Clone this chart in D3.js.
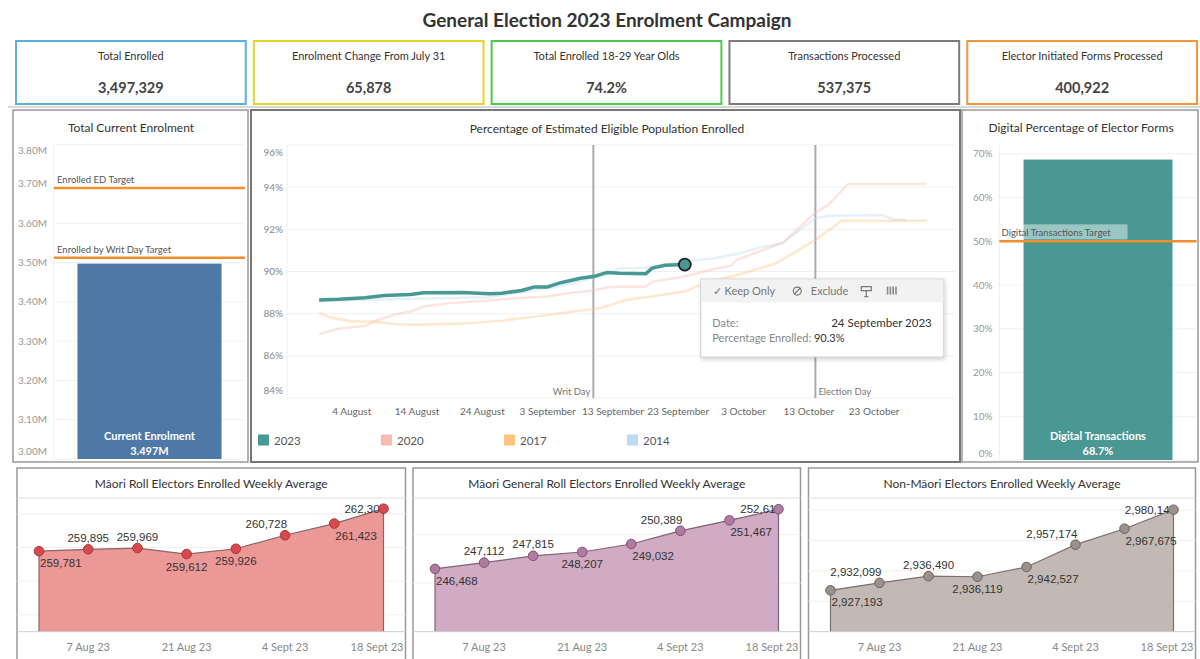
<!DOCTYPE html>
<html>
<head>
<meta charset="utf-8">
<script src="https://cdn.jsdelivr.net/npm/d3@7"></script>
<style>
  body { margin: 0; background: #fff; }
  svg text { font-family: Lato, "Open Sans", sans-serif; }
  svg text.num { font-family: "Liberation Sans", Arial, sans-serif; }
</style>
</head>
<body>
<svg id="dash" width="1200" height="659"></svg>
<script>
// ---------- data ----------
var kpiNames = ["Total Enrolled", "Enrolment Change From July 31", "Total Enrolled 18-29 Year Olds",
  "Transactions Processed", "Elector Initiated Forms Processed"];
var kpiValues = ["3,497,329", "65,878", "74.2%", "537,375", "400,922"];
var kpiColours = ["#5bb0d9", "#e2d62a", "#4fc94a", "#7b7b7b", "#f5953c"];

var currentEnrolment = 3497329;
var enrolTargetNames = ["Enrolled ED Target", "Enrolled by Writ Day Target"];
var enrolTargets = [3690000, 3512500];

var digitalPct = 68.7;
var digitalTargetName = "Digital Transactions Target";
var digitalTarget = 50;

// percentage enrolled, dates aligned to the 2023 calendar
var years = ["2023", "2020", "2017", "2014"];
var yearColours = ["#499894", "#fbbcb0", "#fec57e", "#bcdcf2"];

var dates2023 = ["2023-07-30", "2023-08-02", "2023-08-06", "2023-08-09", "2023-08-13", "2023-08-15",
  "2023-08-21", "2023-08-25", "2023-08-27", "2023-08-30", "2023-09-01", "2023-09-03", "2023-09-05",
  "2023-09-08", "2023-09-10", "2023-09-12", "2023-09-14", "2023-09-18", "2023-09-19", "2023-09-21",
  "2023-09-24"];
var pct2023 = [88.65, 88.68, 88.76, 88.86, 88.91, 88.99, 89.0, 88.95, 88.97, 89.1, 89.27, 89.27, 89.47,
  89.68, 89.76, 89.95, 89.92, 89.89, 90.16, 90.3, 90.33];

var dates2020 = ["2023-07-30", "2023-08-02", "2023-08-06", "2023-08-08", "2023-08-11", "2023-08-13",
  "2023-08-15", "2023-08-19", "2023-08-24", "2023-08-29", "2023-09-03", "2023-09-06", "2023-09-10",
  "2023-09-12", "2023-09-14", "2023-09-18", "2023-09-19", "2023-09-24", "2023-09-28", "2023-10-01",
  "2023-10-02", "2023-10-06", "2023-10-09", "2023-10-10", "2023-10-14", "2023-10-16", "2023-10-19",
  "2023-10-31"];
var pct2020 = [87.03, 87.3, 87.42, 87.7, 87.99, 88.1, 88.34, 88.5, 88.6, 88.73, 88.81, 88.97, 89.1,
  89.24, 89.28, 89.28, 89.52, 89.76, 90.08, 90.27, 90.55, 91.02, 91.37, 91.65, 92.79, 93.16, 94.15,
  94.15];

var dates2017 = ["2023-07-30", "2023-08-01", "2023-08-04", "2023-08-07", "2023-08-11", "2023-08-14",
  "2023-08-22", "2023-08-27", "2023-09-01", "2023-09-05", "2023-09-09", "2023-09-11", "2023-09-13",
  "2023-09-15", "2023-09-18", "2023-09-24", "2023-09-27", "2023-10-03", "2023-10-08", "2023-10-11",
  "2023-10-14", "2023-10-18", "2023-10-31"];
var pct2017 = [88.05, 87.79, 87.63, 87.63, 87.5, 87.47, 87.55, 87.67, 87.86, 88.02, 88.18, 88.26, 88.45,
  88.65, 88.78, 89.05, 89.45, 89.92, 90.39, 90.94, 91.5, 92.41, 92.41];

var dates2014 = ["2023-07-30", "2023-08-10", "2023-08-25", "2023-09-05", "2023-09-12", "2023-09-14",
  "2023-09-18", "2023-09-24", "2023-09-28", "2023-10-02", "2023-10-06", "2023-10-09", "2023-10-11",
  "2023-10-14", "2023-10-16", "2023-10-24", "2023-10-26", "2023-10-28"];
var pct2014 = [88.6, 88.68, 88.78, 89.3, 89.85, 90.16, 90.18, 90.5, 90.6, 90.83, 91.18, 91.34, 91.82,
  92.53, 92.64, 92.68, 92.48, 92.44];

var lineTickDates = ["2023-08-04", "2023-08-14", "2023-08-24", "2023-09-03", "2023-09-13",
  "2023-09-23", "2023-10-03", "2023-10-13", "2023-10-23"];
var eventNames = ["Writ Day", "Election Day"];
var eventDates = ["2023-09-10", "2023-10-14"];

// weekly averages
var weekDates = ["2023-07-31", "2023-08-07", "2023-08-14", "2023-08-21", "2023-08-28", "2023-09-04",
  "2023-09-11", "2023-09-18"];
var maoriRoll = [259781, 259895, 259969, 259612, 259926, 260728, 261423, 262305];
var maoriGeneral = [246468, 247112, 247815, 248207, 249032, 250389, 251467, 252611];
var nonMaori = [2927193, 2932099, 2936490, 2936119, 2942527, 2957174, 2967675, 2980146];
var weekTickDates = ["2023-08-07", "2023-08-21", "2023-09-04", "2023-09-18"];
var weekTickLabels = ["7 Aug 23", "21 Aug 23", "4 Sept 23", "18 Sept 23"];

// ---------- drawing ----------
var parse = d3.timeParse("%Y-%m-%d");
var svg = d3.select("#dash");

var defs = svg.append("defs");
var shadow = defs.append("filter").attr("id", "shadow").attr("x", "-10%").attr("y", "-10%")
  .attr("width", "130%").attr("height", "140%");
shadow.append("feDropShadow").attr("dx", 1).attr("dy", 2).attr("stdDeviation", 2)
  .attr("flood-color", "#000").attr("flood-opacity", 0.18);

svg.append("text")
  .attr("x", 607).attr("y", 27)
  .attr("text-anchor", "middle")
  .attr("font-size", 19).attr("font-weight", 700).attr("fill", "#333")
  .text("General Election 2023 Enrolment Campaign");

// KPI boxes
var kpiX = d3.scaleBand().domain(kpiNames).range([16, 1197]).paddingInner(0.034);
var kpi = svg.selectAll(".kpi").data(kpiNames).enter().append("g")
  .attr("class", "kpi")
  .attr("transform", d => `translate(${kpiX(d)},41)`);
kpi.append("rect")
  .attr("width", kpiX.bandwidth()).attr("height", 63)
  .attr("fill", "none")
  .attr("stroke", (d, i) => kpiColours[i]).attr("stroke-width", 2);
kpi.append("text")
  .attr("x", kpiX.bandwidth() / 2).attr("y", 19)
  .attr("text-anchor", "middle").attr("font-size", 11).attr("fill", "#333")
  .text(d => d);
kpi.append("text")
  .attr("x", kpiX.bandwidth() / 2).attr("y", 52)
  .attr("text-anchor", "middle").attr("font-size", 14.5).attr("font-weight", 700).attr("fill", "#444")
  .text((d, i) => kpiValues[i]);

svg.append("line").attr("x1", 8).attr("x2", 1200).attr("y1", 107).attr("y2", 107)
  .attr("stroke", "#ccc").attr("stroke-width", 1.5);

// panel frames
function frame(x0, y0, x1, y1, col, w) {
  svg.append("rect").attr("x", x0).attr("y", y0).attr("width", x1 - x0).attr("height", y1 - y0)
    .attr("fill", "none").attr("stroke", col).attr("stroke-width", w);
}
function title(x, y, t) {
  svg.append("text").attr("x", x).attr("y", y).attr("text-anchor", "middle")
    .attr("font-size", 12).attr("fill", "#333").text(t);
}
frame(13, 110, 248, 462, "#999", 1.5);
frame(251, 110, 960, 462, "#777", 2);
frame(962, 110, 1198, 462, "#999", 1.5);

// ----- Total Current Enrolment -----
title(131, 132, "Total Current Enrolment");
var yEnrol = d3.scaleLinear().domain([3.0e6, 3.8e6]).range([459, 144.7]);
var xEnrol = d3.scaleBand().domain(["Current Enrolment"]).range([54, 245]).padding(0.14);
var enrolTicks = yEnrol.ticks(8);

svg.append("g").selectAll("line").data(enrolTicks).enter().append("line")
  .attr("x1", 54).attr("x2", 245)
  .attr("y1", d => yEnrol(d)).attr("y2", d => yEnrol(d))
  .attr("stroke", "#f0f0f0");
svg.append("line").attr("x1", 54).attr("x2", 54).attr("y1", 144.7).attr("y2", 459).attr("stroke", "#eee");
svg.append("g").selectAll("text").data(enrolTicks).enter().append("text")
  .attr("x", 47)
  .attr("y", (d, i) => yEnrol(d) + 3.5 + (i === 0 ? -7.5 : i === enrolTicks.length - 1 ? 6 : 0))
  .attr("text-anchor", "end").attr("font-size", 10).attr("fill", "#999")
  .text(d => (d / 1e6).toFixed(2) + "M");

svg.append("rect")
  .attr("x", xEnrol("Current Enrolment")).attr("width", xEnrol.bandwidth())
  .attr("y", yEnrol(currentEnrolment)).attr("height", 459 - yEnrol(currentEnrolment))
  .attr("fill", "#4e79a7");
svg.append("text").attr("x", xEnrol("Current Enrolment") + xEnrol.bandwidth() / 2).attr("y", 439.5)
  .attr("text-anchor", "middle").attr("font-size", 11).attr("font-weight", 700).attr("fill", "#fff")
  .text("Current Enrolment");
svg.append("text").attr("x", xEnrol("Current Enrolment") + xEnrol.bandwidth() / 2).attr("y", 455)
  .attr("text-anchor", "middle").attr("font-size", 11).attr("font-weight", 700).attr("fill", "#fff")
  .text(d3.format(".3f")(currentEnrolment / 1e6) + "M");

enrolTargets.forEach(function(t, i) {
  svg.append("line").attr("x1", 54).attr("x2", 245).attr("y1", yEnrol(t)).attr("y2", yEnrol(t))
    .attr("stroke", "#f28e2b").attr("stroke-width", 2.5);
  svg.append("text").attr("x", 57).attr("y", yEnrol(t) - 5)
    .attr("font-size", 9.5).attr("fill", "#555").text(enrolTargetNames[i]);
});

// ----- Percentage of Estimated Eligible Population Enrolled -----
title(607, 133, "Percentage of Estimated Eligible Population Enrolled");
var xLine = d3.scaleTime().domain([parse("2023-07-25"), parse("2023-11-04")]).range([286.5, 952.5]);
var yLine = d3.scaleLinear().domain([84, 96]).range([398, 145]);
var pctTicks = d3.range(84, 97, 2);

svg.append("g").selectAll("line").data(pctTicks).enter().append("line")
  .attr("x1", 287).attr("x2", 955)
  .attr("y1", d => yLine(d)).attr("y2", d => yLine(d))
  .attr("stroke", "#f0f0f0");
svg.append("line").attr("x1", 287).attr("x2", 287).attr("y1", 145).attr("y2", 398).attr("stroke", "#eee");
svg.append("g").selectAll("text").data(pctTicks).enter().append("text")
  .attr("x", 283)
  .attr("y", (d, i) => yLine(d) + 3.5 + (i === 0 ? -7.5 : i === pctTicks.length - 1 ? 7 : 0))
  .attr("text-anchor", "end").attr("font-size", 10).attr("fill", "#888")
  .text(d => d + "%");

svg.append("g").selectAll("text").data(lineTickDates).enter().append("text")
  .attr("x", d => xLine(parse(d))).attr("y", 415)
  .attr("text-anchor", "middle").attr("font-size", 10).attr("fill", "#666")
  .text(d => d3.timeFormat("%-d %B")(parse(d)));

eventDates.forEach(function(d, i) {
  var ex = xLine(parse(d));
  svg.append("line").attr("x1", ex).attr("x2", ex).attr("y1", 145).attr("y2", 398)
    .attr("stroke", "#aaa").attr("stroke-width", 2);
  svg.append("text").attr("x", i === 0 ? ex - 3 : ex + 3).attr("y", 395)
    .attr("text-anchor", i === 0 ? "end" : "start")
    .attr("font-size", 9.5).attr("fill", "#777").text(eventNames[i]);
});

var seriesDates = [dates2023, dates2020, dates2017, dates2014];
var seriesPct = [pct2023, pct2020, pct2017, pct2014];
var line = d3.line().x(d => xLine(d.date)).y(d => yLine(d.v));
// faded years first, 2023 on top
[3, 2, 1, 0].forEach(function(s) {
  var pts = seriesDates[s].map((d, i) => ({ date: parse(d), v: seriesPct[s][i] }));
  svg.append("path").datum(pts)
    .attr("d", line)
    .attr("fill", "none")
    .attr("stroke", yearColours[s])
    .attr("stroke-width", s === 0 ? 3.5 : 2.5)
    .attr("stroke-opacity", s === 0 ? 1 : 0.4)
    .attr("stroke-linejoin", "round");
});

var lastDate = parse(dates2023[dates2023.length - 1]);
var lastPct = pct2023[pct2023.length - 1];
var dotX = xLine(lastDate), dotY = yLine(lastPct);
svg.append("circle").attr("cx", dotX).attr("cy", dotY).attr("r", 6)
  .attr("fill", "#499894").attr("stroke", "#222").attr("stroke-width", 1.8);

// legend
var legend = svg.selectAll(".leg").data(years).enter().append("g")
  .attr("transform", (d, i) => `translate(${258 + i * 123},434.5)`);
legend.append("rect").attr("width", 11).attr("height", 11).attr("fill", (d, i) => yearColours[i]);
legend.append("text").attr("x", 16).attr("y", 10).attr("font-size", 11.5).attr("fill", "#555").text(d => d);

// tooltip
var tip = svg.append("g").attr("transform", `translate(${dotX + 16},${dotY + 14.5})`);
tip.append("rect").attr("width", 243).attr("height", 78).attr("fill", "#fff")
  .attr("stroke", "#ccc").attr("filter", "url(#shadow)");
tip.append("rect").attr("x", 0.5).attr("y", 0.5).attr("width", 242).attr("height", 23).attr("fill", "#f2f2f2");
tip.append("text").attr("x", 12).attr("y", 16).attr("font-size", 11).attr("fill", "#777").text("✓  Keep Only");
tip.append("circle").attr("cx", 96.5).attr("cy", 12).attr("r", 4).attr("fill", "none").attr("stroke", "#777").attr("stroke-width", 1.2);
tip.append("line").attr("x1", 93.5).attr("y1", 15).attr("x2", 99.5).attr("y2", 9).attr("stroke", "#777").attr("stroke-width", 1.2);
tip.append("text").attr("x", 110).attr("y", 16).attr("font-size", 11).attr("fill", "#777").text("Exclude");
tip.append("path").attr("d", "M160.5,7.5 h10 v4 h-10 z M165.5,11.5 v6 M163.5,17.5 h4")
  .attr("fill", "none").attr("stroke", "#777").attr("stroke-width", 1.2);
tip.append("g").selectAll("rect").data([0, 1, 2, 3]).enter().append("rect")
  .attr("x", d => 186 + d * 2.8).attr("y", 7.5).attr("width", 1.6).attr("height", 8).attr("fill", "#888");
tip.append("text").attr("x", 11.5).attr("y", 48).attr("font-size", 11).attr("fill", "#888").text("Date:");
tip.append("text").attr("x", 231).attr("y", 48).attr("text-anchor", "end").attr("font-size", 11.5).attr("fill", "#333")
  .text(d3.timeFormat("%-d %B %Y")(lastDate));
tip.append("text").attr("x", 11.5).attr("y", 63).attr("font-size", 11).attr("fill", "#888")
  .text("Percentage Enrolled: ")
  .append("tspan").attr("fill", "#333").text(d3.format(".1f")(lastPct) + "%");

// ----- Digital Percentage of Elector Forms -----
title(1081, 132, "Digital Percentage of Elector Forms");
var yDig = d3.scaleLinear().domain([0, 72.1]).range([460, 144.7]);
var xDig = d3.scaleBand().domain(["Digital Transactions"]).range([999.3, 1196.7]).padding(0.14);
var digTicks = d3.range(0, 71, 10);
svg.append("g").selectAll("line").data(digTicks).enter().append("line")
  .attr("x1", 999.3).attr("x2", 1196.7)
  .attr("y1", d => yDig(d)).attr("y2", d => yDig(d))
  .attr("stroke", "#f0f0f0");
svg.append("line").attr("x1", 999.3).attr("x2", 999.3).attr("y1", 144.7).attr("y2", 460).attr("stroke", "#eee");
svg.append("g").selectAll("text").data(digTicks).enter().append("text")
  .attr("x", 992.5)
  .attr("y", (d, i) => yDig(d) + 3.5 + (i === 0 ? -7 : 0))
  .attr("text-anchor", "end").attr("font-size", 10).attr("fill", "#999")
  .text(d => d + "%");
svg.append("rect")
  .attr("x", xDig("Digital Transactions")).attr("width", xDig.bandwidth())
  .attr("y", yDig(digitalPct)).attr("height", 460 - yDig(digitalPct))
  .attr("fill", "#499894");
svg.append("text").attr("x", xDig("Digital Transactions") + xDig.bandwidth() / 2).attr("y", 439.5)
  .attr("text-anchor", "middle").attr("font-size", 11).attr("font-weight", 700).attr("fill", "#fff")
  .text("Digital Transactions");
svg.append("text").attr("x", xDig("Digital Transactions") + xDig.bandwidth() / 2).attr("y", 455)
  .attr("text-anchor", "middle").attr("font-size", 11).attr("font-weight", 700).attr("fill", "#fff")
  .text(digitalPct + "%");
svg.append("rect").attr("x", 999.5).attr("y", yDig(digitalTarget) - 17).attr("width", 128).attr("height", 15)
  .attr("fill", "#fff").attr("fill-opacity", 0.45);
svg.append("line").attr("x1", 999.3).attr("x2", 1196.7)
  .attr("y1", yDig(digitalTarget)).attr("y2", yDig(digitalTarget))
  .attr("stroke", "#f28e2b").attr("stroke-width", 2.5);
svg.append("text").attr("x", 1001.5).attr("y", yDig(digitalTarget) - 5.5)
  .attr("font-size", 9.5).attr("fill", "#555").text(digitalTargetName);

// ----- weekly average panels -----
var labelPos = {
  a:  { anchor: "middle", dx: 0,   dy: -7.5 },
  b:  { anchor: "middle", dx: 0,   dy: 16.5 },
  br: { anchor: "start",  dx: 1,   dy: 16 },
  al: { anchor: "end",    dx: 2,   dy: -7 },
  l:  { anchor: "end",    dx: 2.5, dy: 4 }
};

function weeklyPanel(x0, x1, name, values, domain, nTicks, areaCol, lineCol, dotCol, dotStroke, places) {
  var base = 631.7;
  var g = svg.append("g");
  var x = d3.scaleTime().domain(d3.extent(weekDates, parse)).range([x0 + 22, x1 - 22]);
  var y = d3.scaleLinear().domain(domain).range([base, 497]);
  var pts = weekDates.map((d, i) => ({ date: parse(d), v: values[i] }));

  g.append("path").attr("d", `M${x0},660 V468 H${x1} V660`)
    .attr("fill", "none").attr("stroke", "#999").attr("stroke-width", 1.5);
  g.append("text").attr("x", (x0 + x1) / 2).attr("y", 487.5).attr("text-anchor", "middle")
    .attr("font-size", 12).attr("fill", "#333").text(name);
  g.append("line").attr("x1", x0).attr("x2", x1).attr("y1", 498).attr("y2", 498).attr("stroke", "#ddd");

  g.selectAll(".grid").data(y.ticks(nTicks).filter(t => t > domain[0])).enter().append("line")
    .attr("x1", x0).attr("x2", x1)
    .attr("y1", d => y(d)).attr("y2", d => y(d))
    .attr("stroke", "#f0f0f0");

  g.append("path").datum(pts)
    .attr("d", d3.area().x(d => x(d.date)).y0(base).y1(d => y(d.v)))
    .attr("fill", areaCol);
  var outline = [{ date: pts[0].date, v: domain[0] }].concat(pts, [{ date: pts[pts.length - 1].date, v: domain[0] }]);
  g.append("path").datum(outline)
    .attr("d", d3.line().x(d => x(d.date)).y(d => y(d.v)))
    .attr("fill", "none").attr("stroke", lineCol).attr("stroke-width", 1.2);

  g.append("line").attr("x1", x0).attr("x2", x1).attr("y1", base).attr("y2", base)
    .attr("stroke", "#ccc").attr("stroke-width", 1);

  g.selectAll(".vl").data(pts).enter().append("text")
    .attr("class", "num")
    .attr("x", (d, i) => x(d.date) + labelPos[places[i]].dx)
    .attr("y", (d, i) => y(d.v) + labelPos[places[i]].dy)
    .attr("text-anchor", (d, i) => labelPos[places[i]].anchor)
    .attr("font-size", 11.5).attr("fill", "#333")
    .text(d => d3.format(",")(d.v));

  g.selectAll(".dot").data(pts).enter().append("circle")
    .attr("cx", d => x(d.date)).attr("cy", d => y(d.v)).attr("r", 4.8)
    .attr("fill", dotCol).attr("stroke", dotStroke).attr("stroke-width", 1);

  g.selectAll(".tk").data(weekTickDates).enter().append("text")
    .attr("x", (d, i) => i === weekTickDates.length - 1 ? x1 - 2 : x(parse(d)))
    .attr("y", 650.5)
    .attr("text-anchor", (d, i) => i === weekTickDates.length - 1 ? "end" : "middle")
    .attr("font-size", 11).attr("fill", "#888")
    .text((d, i) => weekTickLabels[i]);
}

weeklyPanel(17, 405.5, "Māori Roll Electors Enrolled Weekly Average", maoriRoll, [255000, 263000], 4,
  "#ec9896", "#8a6565", "#d9484c", "#a33a3c", ["br", "a", "a", "b", "b", "al", "br", "l"]);
weeklyPanel(413, 800.5, "Māori General Roll Electors Enrolled Weekly Average", maoriGeneral, [240000, 253870], 3,
  "#d1aac4", "#7d6476", "#b07aa1", "#7d5472", ["br", "a", "a", "b", "br", "al", "br", "l"]);
weeklyPanel(808.5, 1195.5, "Non-Māori Electors Enrolled Weekly Average", nonMaori, [2900000, 2988500], 4,
  "#c2b9b4", "#7b716d", "#9d8f8a", "#6e6360", ["br", "al", "a", "b", "br", "al", "br", "l"]);
</script>
</body>
</html>
